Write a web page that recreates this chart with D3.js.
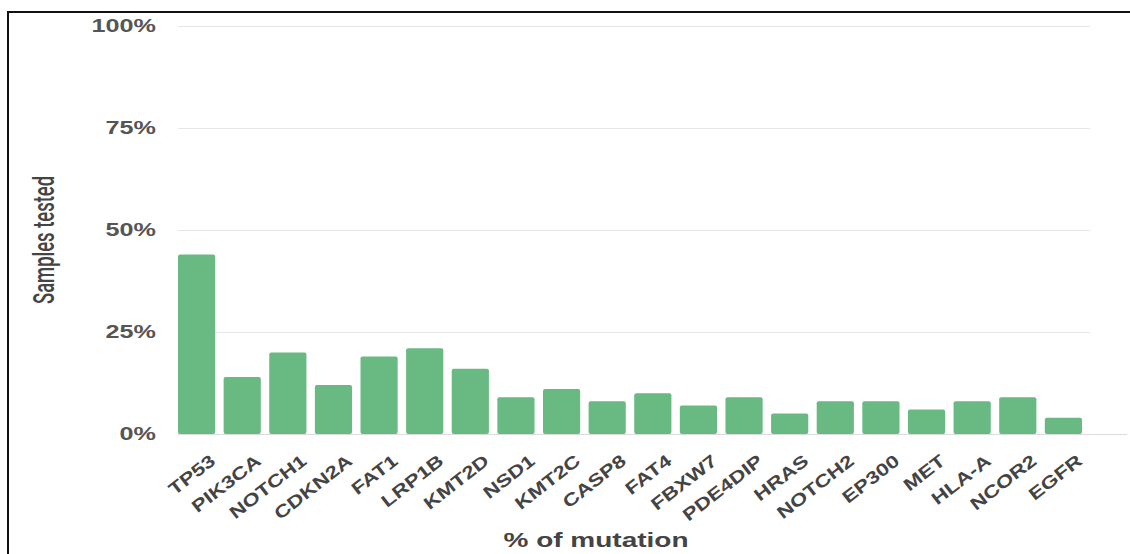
<!DOCTYPE html>
<html>
<head>
<meta charset="utf-8">
<script src="https://cdn.jsdelivr.net/npm/d3@7"></script>
<style>
  html, body { margin: 0; padding: 0; background: #fff; }
  svg { display: block; }
</style>
</head>
<body>
<svg id="chart" width="1130" height="554"></svg>
<script>
const genes = ["TP53","PIK3CA","NOTCH1","CDKN2A","FAT1","LRP1B","KMT2D","NSD1","KMT2C","CASP8","FAT4","FBXW7","PDE4DIP","HRAS","NOTCH2","EP300","MET","HLA-A","NCOR2","EGFR"];
const values = [44,14,20,12,19,21,16,9,11,8,10,7,9,5,8,8,6,8,9,4];
const yTicks = [0,25,50,75,100];
const yTitle = "Samples tested";
const xTitle = "% of mutation";

const SX = 1.4; // horizontal stretch of the reference rendering
const svg = d3.select("#chart");

// frame
svg.append("rect").attr("x", 8).attr("y", 12).attr("width", 1200).attr("height", 700)
  .attr("fill", "none").attr("stroke", "#111").attr("stroke-width", 2);

const x = d3.scaleBand().domain(genes).range([178, 1082]).paddingInner(0.185).paddingOuter(0);
const y = d3.scaleLinear().domain([0, 100]).range([434, 26]);

// gridlines
svg.append("g").selectAll("line").data(yTicks.filter(d => d > 0)).join("line")
  .attr("x1", 178).attr("x2", 1090)
  .attr("y1", d => y(d) + 0.5).attr("y2", d => y(d) + 0.5)
  .attr("stroke", "#e6e6e6").attr("stroke-width", 1);

// y tick labels
svg.append("g").selectAll("text").data(yTicks).join("text")
  .attr("transform", d => `translate(156,${y(d)}) scale(${SX},1)`)
  .attr("dy", "0.36em")
  .attr("text-anchor", "end")
  .attr("font-family", "Liberation Sans, Arial, sans-serif")
  .attr("font-weight", "bold")
  .attr("font-size", 18)
  .attr("fill", "#555")
  .text(d => d + "%");

// bars
svg.append("g").selectAll("rect").data(genes).join("rect")
  .attr("x", d => x(d))
  .attr("y", (d, i) => y(values[i]))
  .attr("width", x.bandwidth())
  .attr("height", (d, i) => y(0) - y(values[i]))
  .attr("rx", 2)
  .attr("fill", "#69b983");

// baseline
svg.append("line").attr("x1", 178).attr("x2", 1127)
  .attr("y1", y(0) + 0.5).attr("y2", y(0) + 0.5)
  .attr("stroke", "#dcdcdc").attr("stroke-width", 1);

// x labels
svg.append("g").selectAll("text").data(genes).join("text")
  .attr("transform", d => `translate(${x(d) + x.bandwidth() / 2 + 20},${y(0) + 29}) rotate(-38) scale(1.28,1)`)
  .attr("text-anchor", "end")
  .attr("font-family", "Liberation Sans, Arial, sans-serif")
  .attr("font-weight", "bold")
  .attr("font-size", 17.5)
  .attr("fill", "#444")
  .text(d => d);

// y title
svg.append("text")
  .attr("transform", `translate(54,240) rotate(-90) scale(0.9,${SX})`)
  .attr("text-anchor", "middle")
  .attr("font-family", "Roboto, sans-serif")
  .attr("font-weight", 500)
  .attr("font-size", 20.5)
  .attr("fill", "#444")
  .text(yTitle);

// x title
svg.append("text")
  .attr("transform", `translate(596,547) scale(${SX},1)`)
  .attr("text-anchor", "middle")
  .attr("font-family", "Liberation Sans, Arial, sans-serif")
  .attr("font-weight", "bold")
  .attr("font-size", 20)
  .attr("fill", "#444")
  .text(xTitle);
</script>
</body>
</html>
